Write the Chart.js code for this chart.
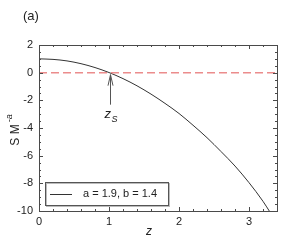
<!DOCTYPE html>
<html>
<head>
<meta charset="utf-8">
<script src="https://cdn.jsdelivr.net/npm/chart.js@4.4.0/dist/chart.umd.min.js"></script>
<style>
  html, body { margin: 0; padding: 0; background: #fff; }
  #wrap { width: 291px; height: 240px; }
</style>
</head>
<body>
<div id="wrap"><canvas id="chart" width="291" height="240"></canvas></div>
<script>
// values
const zValues = [0, 0.2, 0.4, 0.6, 0.8, 1.0, 1.2, 1.4, 1.6, 1.8, 2.0, 2.2, 2.4, 2.6, 2.8, 3.0, 3.2, 3.29];
const sValues = [1.0, 0.96, 0.85, 0.65, 0.37, 0.01, -0.43, -0.95, -1.55, -2.22, -2.95, -3.8, -4.7, -5.7, -6.75, -7.95, -9.3, -10];
const zeroLineZ = [0, 3.4];
const zeroLineS = [0, 0];
const xTicks = [0, 1, 2, 3];
const yTicks = [2, 0, -2, -4, -6, -8, -10];
const crossingZ = 1.01;
const legendLabel = 'a = 1.9, b = 1.4';

const frameColor = '#4a4a4a';
const textColor = '#222';
const fontFamily = '"Liberation Sans", Arial, sans-serif';

const decorPlugin = {
    id: 'decor',
    afterDraw(chart) {
        const ctx = chart.ctx;
        const area = chart.chartArea;
        const xs = chart.scales.x;
        const ys = chart.scales.y;
        ctx.save();

        // frame
        ctx.strokeStyle = frameColor;
        ctx.lineWidth = 1;
        ctx.strokeRect(Math.round(area.left) + 0.5, Math.round(area.top) + 0.5,
            Math.round(area.right - area.left), Math.round(area.bottom - area.top));

        // inward ticks
        ctx.beginPath();
        for (let v = 0; v <= 3.401; v += 0.2) {
            const major = Math.abs(v - Math.round(v)) < 0.01;
            const len = major ? 4 : 2;
            const px = Math.round(xs.getPixelForValue(v)) + 0.5;
            ctx.moveTo(px, area.bottom); ctx.lineTo(px, area.bottom - len);
            ctx.moveTo(px, area.top); ctx.lineTo(px, area.top + len);
        }
        for (let v = -10; v <= 2.001; v += 0.5) {
            const major = Math.abs(v / 2 - Math.round(v / 2)) < 0.01;
            const len = major ? 4 : 2;
            const py = Math.round(ys.getPixelForValue(v)) + 0.5;
            ctx.moveTo(area.left, py); ctx.lineTo(area.left + len, py);
            ctx.moveTo(area.right, py); ctx.lineTo(area.right - len, py);
        }
        ctx.stroke();

        // panel label
        ctx.fillStyle = textColor;
        ctx.font = '13px ' + fontFamily;
        ctx.textBaseline = 'alphabetic';
        ctx.textAlign = 'left';
        ctx.fillText('(a)', 23, 20);

        // x title
        ctx.font = 'italic 12px ' + fontFamily;
        ctx.textAlign = 'center';
        ctx.fillText('z', 149, 235);

        // y title
        ctx.save();
        ctx.translate(19, (area.top + area.bottom) / 2);
        ctx.rotate(-Math.PI / 2);
        ctx.font = '12px ' + fontFamily;
        ctx.textAlign = 'left';
        const main = 'S M';
        const w1 = ctx.measureText(main).width;
        ctx.fillText(main, -w1 / 2 - 7, 0);
        ctx.font = 'italic 9px ' + fontFamily;
        ctx.fillText('-a', w1 / 2 - 5, -7);
        ctx.restore();

        // arrow to crossing point
        const cx = Math.round(xs.getPixelForValue(crossingZ)) + 0.5;
        const cy = ys.getPixelForValue(0);
        ctx.strokeStyle = '#555';
        ctx.beginPath();
        ctx.moveTo(cx, cy + 2); ctx.lineTo(cx, cy + 32);
        ctx.moveTo(cx - 2.5, cy + 13); ctx.lineTo(cx, cy + 2); ctx.lineTo(cx + 2.5, cy + 13);
        ctx.stroke();
        ctx.fillStyle = textColor;
        ctx.font = 'italic 13px ' + fontFamily;
        ctx.textAlign = 'left';
        ctx.fillText('z', cx - 6, cy + 45);
        ctx.font = 'italic 9px ' + fontFamily;
        ctx.fillText('S', cx + 1, cy + 49);

        // legend box
        const bx = 45, by = 182, bw = 123, bh = 23;
        ctx.strokeStyle = '#bbb';
        ctx.strokeRect(bx + 1.5, by + 1.5, bw, bh);
        ctx.strokeStyle = '#555';
        ctx.strokeRect(bx + 0.5, by + 0.5, bw, bh);
        ctx.strokeStyle = '#333';
        ctx.beginPath();
        ctx.moveTo(bx + 5, by + 12.5); ctx.lineTo(bx + 27, by + 12.5);
        ctx.stroke();
        ctx.fillStyle = textColor;
        ctx.font = '11px ' + fontFamily;
        ctx.textBaseline = 'middle';
        ctx.fillText(legendLabel, bx + 38, by + 12);

        ctx.restore();
    }
};

const chart = new Chart(document.getElementById('chart').getContext('2d'), {
    type: 'scatter',
    data: {
        datasets: [{
            label: 'zero',
            data: zeroLineZ.map((z, i) => ({ x: z, y: zeroLineS[i] })),
            showLine: true,
            borderColor: 'rgba(232, 120, 120, 0.85)',
            borderWidth: 1.5,
            borderDash: [8, 4],
            pointRadius: 0,
            fill: false
        }, {
            label: legendLabel,
            data: zValues.map((z, i) => ({ x: z, y: sValues[i] })),
            showLine: true,
            borderColor: '#333',
            borderWidth: 1,
            pointRadius: 0,
            tension: 0.4,
            cubicInterpolationMode: 'monotone',
            fill: false
        }]
    },
    options: {
        responsive: false,
        animation: false,
        layout: { padding: { left: 0, top: 45, right: 14, bottom: 0 } },
        plugins: { legend: { display: false }, tooltip: { enabled: false } },
        scales: {
            x: {
                type: 'linear',
                min: 0,
                max: 3.4,
                afterFit: s => { s.height = 29; },
                afterBuildTicks: s => { s.ticks = xTicks.map(v => ({ value: v })); },
                grid: { display: false, drawTicks: false },
                border: { display: false },
                ticks: {
                    color: textColor,
                    padding: 4,
                    font: { family: fontFamily, size: 11 }
                }
            },
            y: {
                type: 'linear',
                min: -10,
                max: 2,
                afterFit: s => { s.width = 39; },
                afterBuildTicks: s => { s.ticks = yTicks.map(v => ({ value: v })); },
                grid: { display: false, drawTicks: false },
                border: { display: false },
                ticks: {
                    color: textColor,
                    padding: 6,
                    font: { family: fontFamily, size: 11 }
                }
            }
        }
    },
    plugins: [decorPlugin]
});
</script>
</body>
</html>
